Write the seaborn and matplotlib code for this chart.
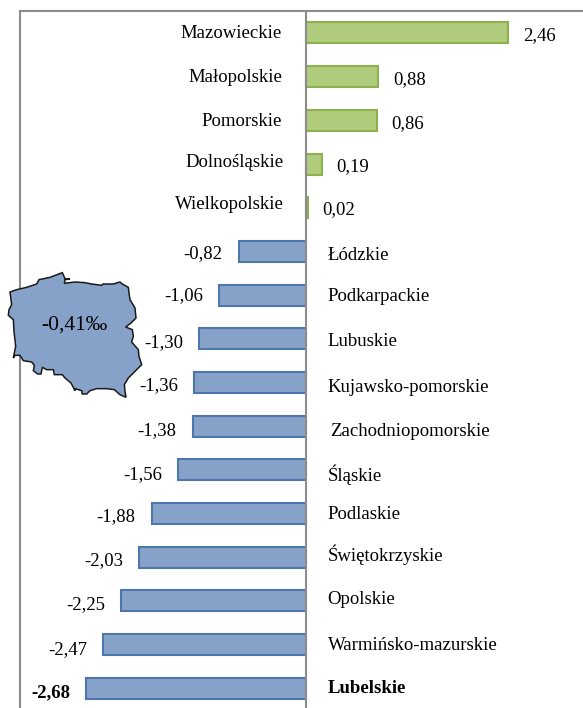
import matplotlib
matplotlib.use("Agg")
import matplotlib.pyplot as plt
import pandas as pd
import seaborn as sns
from matplotlib.patches import Polygon
from matplotlib.transforms import Affine2D

regions = ["Mazowieckie", "Małopolskie", "Pomorskie", "Dolnośląskie", "Wielkopolskie",
           "Łódzkie", "Podkarpackie", "Lubuskie", "Kujawsko-pomorskie", "Zachodniopomorskie",
           "Śląskie", "Podlaskie", "Świętokrzyskie", "Opolskie", "Warmińsko-mazurskie", "Lubelskie"]
values = [2.46, 0.88, 0.86, 0.19, 0.02, -0.82, -1.06, -1.30, -1.36, -1.38,
          -1.56, -1.88, -2.03, -2.25, -2.47, -2.68]

# hand placed label nudges from the original, in pixels (down is positive)
value_dy = [1, 1, 1.5, 1, 0, 1, -1, 2, 2, 3, 3, 2, 2, 2.5, 3, 3]
name_dy = [-1, -1, 0, -3, -5, 3, 0, 1, 3, 4, 3, -1, -4, -2.5, -1, -1]
name_dx = [-24, -24, -24, -22, -22, 22, 21.5, 21.5, 21.5, 24.5, 22, 21.5, 22, 21.5, 22, 22]

# outline of the country, picture pixels
map_outline = [(225, 156), (255, 158), (275, 162), (305, 166), (309, 162), (340, 162), (360, 156),
               (367, 162), (385, 172), (387, 189), (390, 209), (405, 234), (408, 264), (393, 279),
               (377, 291), (397, 299), (400, 319), (395, 336), (415, 359), (417, 379), (425, 404),
               (410, 419), (385, 444), (373, 464), (375, 484), (378, 502), (360, 494), (343, 479),
               (320, 476), (290, 476), (270, 482), (260, 492), (247, 492), (245, 482), (225, 476),
               (225, 482), (213, 459), (195, 444), (187, 434), (163, 434), (160, 419), (140, 419),
               (127, 412), (123, 432), (113, 432), (100, 422), (103, 406), (95, 396), (70, 392),
               (60, 376), (45, 376), (40, 384), (47, 349), (42, 304), (40, 269), (25, 256),
               (27, 239), (35, 224), (30, 186), (50, 179), (80, 172), (110, 162), (117, 149),
               (150, 142), (187, 128), (195, 146), (210, 147), (195, 149), (193, 160)]

W, H = 583, 708
GREEN, GREEN_EDGE = "#afcb7c", "#8fb04f"
BLUE, BLUE_EDGE = "#86a2c9", "#4f75ad"
GRAY = "#8c8c8c"
TEXT_SHIFT = 1.5

sns.set_style("white")
plt.rcParams["font.family"] = ["Liberation Serif", "DejaVu Serif"]

df = pd.DataFrame({"region": regions, "value": values})
df["sign"] = ["up" if v > 0 else "down" for v in values]

fig = plt.figure(figsize=(W / 100, H / 100), dpi=100)
ax = fig.add_axes([19.5 / W, 0, 1 - 19.5 / W, 1 - 11 / H])

sns.barplot(data=df, x="value", y="region", hue="sign", dodge=False, legend=False, width=0.48,
            saturation=1, palette={"up": GREEN, "down": BLUE}, ax=ax)
for bar in ax.patches:
    bar.set_edgecolor(GREEN_EDGE if bar.get_width() > 0 else BLUE_EDGE)
    bar.set_linewidth(1.5)

ax.set_xlim(-3.49, 3.374)
ax.set_ylim(15.45, -0.503)
ax.set_xlabel("")
ax.set_ylabel("")
ax.set_xticks([])
ax.set_yticks([])
sns.despine(ax=ax, right=True, bottom=True, top=False, left=False)
for side in ["left", "top"]:
    ax.spines[side].set_color(GRAY)
    ax.spines[side].set_linewidth(1.5)
ax.axvline(0, color=GRAY, lw=1.5, zorder=5)

for i, (name, val) in enumerate(zip(regions, values)):
    weight = "bold" if name == "Lubelskie" else "normal"
    label = f"{val:.2f}".replace(".", ",")
    ax.annotate(label, (val, i), xytext=(15 if val > 0 else -16, -value_dy[i] - TEXT_SHIFT),
                textcoords="offset pixels", ha="left" if val > 0 else "right", va="center",
                fontsize=13.5, fontweight=weight, color="black")
    ax.annotate(name, (0, i), xytext=(name_dx[i], -name_dy[i] - TEXT_SHIFT), textcoords="offset pixels",
                ha="left" if val < 0 else "right", va="center",
                fontsize=13.5, fontweight=weight, color="black")

# map sits over the axes in picture pixels (zoomed crop was 3x, started at y=230)
to_fig = Affine2D().scale(1 / 3).translate(0, 230).scale(1, -1).translate(0, H) + \
    Affine2D().scale(1 / W, 1 / H) + fig.transFigure
fig.add_artist(Polygon(map_outline, closed=True, facecolor=BLUE, edgecolor="#1a1a1a", lw=1.1,
                       transform=to_fig, zorder=6))
fig.text(74 / W, 1 - 325 / H, "-0,41‰", ha="center", va="center", fontsize=15.5, color="black", zorder=7)

fig.savefig("out.png", dpi=100)
